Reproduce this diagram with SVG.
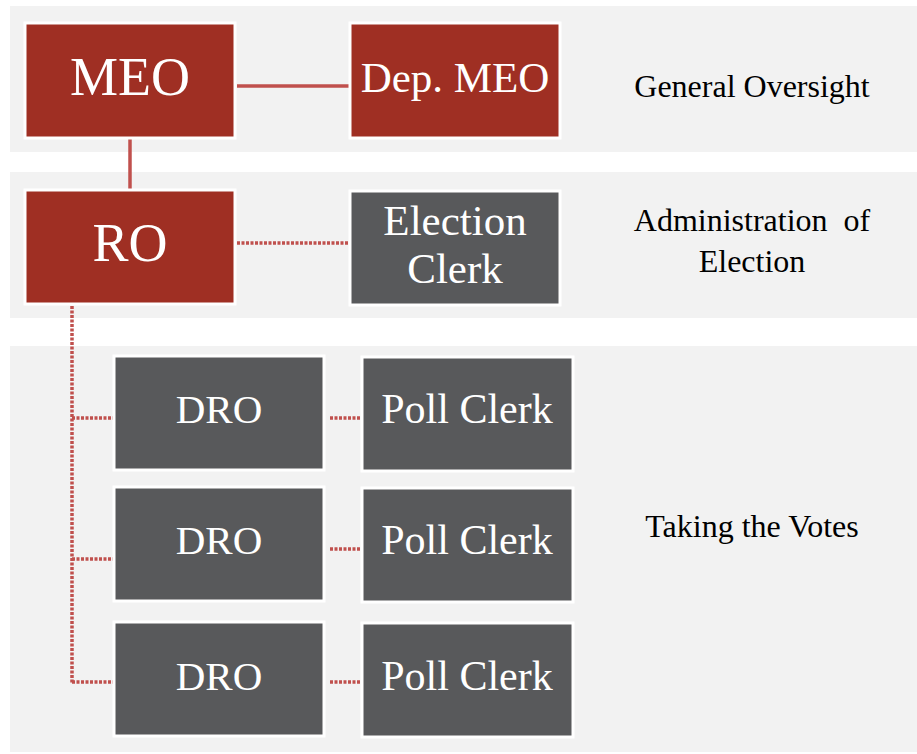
<svg xmlns="http://www.w3.org/2000/svg" width="917" height="754" viewBox="0 0 917 754">
<style>
.band{fill:#f2f2f2}
.red{fill:#9f2f23;stroke:#ffffff;stroke-width:3}
.grey{fill:#58595b;stroke:#ffffff;stroke-width:3}
.t{font-family:"Liberation Serif","DejaVu Serif",serif;fill:#ffffff;text-anchor:middle}
.lbl{font-family:"Liberation Serif","DejaVu Serif",serif;fill:#000000;text-anchor:middle;font-size:32px}
.solid{stroke:#c0504d;stroke-width:3.5;fill:none}
.dot{stroke:#c0504d;stroke-width:3.5;fill:none;stroke-dasharray:3 1.5}
</style>
<rect width="917" height="754" fill="#ffffff"/>
<g id="bands">
<rect class="band" x="10" y="6" width="907" height="146"/>
<rect class="band" x="10" y="172" width="907" height="146"/>
<rect class="band" x="10" y="346" width="907" height="406"/>
</g>
<g id="connectors">
<line class="solid" x1="237" y1="86" x2="349" y2="86"/>
<line class="solid" x1="130" y1="139" x2="130" y2="189"/>
<line class="dot" x1="237" y1="243" x2="349" y2="243"/>
<line class="dot" x1="72" y1="306" x2="72" y2="684"/>
<line class="dot" x1="72" y1="418" x2="113" y2="418"/>
<line class="dot" x1="72" y1="559" x2="113" y2="559"/>
<line class="dot" x1="72" y1="682" x2="113" y2="682"/>
<line class="dot" x1="330" y1="418" x2="361" y2="418"/>
<line class="dot" x1="330" y1="549" x2="361" y2="549"/>
<line class="dot" x1="330" y1="682" x2="361" y2="682"/>
</g>
<g id="meo"><rect class="red" x="25" y="23" width="210" height="115"/><text class="t" x="130" y="95" font-size="54">MEO</text></g>
<g id="depmeo"><rect class="red" x="350" y="23" width="210" height="115"/><text class="t" x="455" y="92" font-size="43">Dep. MEO</text></g>
<g id="ro"><rect class="red" x="25" y="190" width="210" height="114"/><text class="t" x="130" y="261" font-size="54">RO</text></g>
<g id="electionclerk"><rect class="grey" x="350" y="191" width="210" height="114"/><text class="t" x="455" y="235" font-size="43">Election</text><text class="t" x="455" y="283" font-size="43">Clerk</text></g>
<g id="dro1"><rect class="grey" x="114" y="356" width="210" height="114"/><text class="t" x="219" y="423" font-size="41">DRO</text></g>
<g id="dro2"><rect class="grey" x="114" y="487" width="210" height="114"/><text class="t" x="219" y="554" font-size="41">DRO</text></g>
<g id="dro3"><rect class="grey" x="114" y="622" width="210" height="114"/><text class="t" x="219" y="690" font-size="41">DRO</text></g>
<g id="poll1"><rect class="grey" x="362" y="357" width="211" height="114"/><text class="t" x="467" y="423" font-size="42">Poll Clerk</text></g>
<g id="poll2"><rect class="grey" x="362" y="488" width="211" height="114"/><text class="t" x="467" y="554" font-size="42">Poll Clerk</text></g>
<g id="poll3"><rect class="grey" x="362" y="623" width="211" height="114"/><text class="t" x="467" y="690" font-size="42">Poll Clerk</text></g>
<g id="labels">
<text class="lbl" x="752" y="97" font-size="33">General Oversight</text>
<text class="lbl" x="752" y="231" xml:space="preserve">Administration  of</text>
<text class="lbl" x="752" y="272">Election</text>
<text class="lbl" x="752" y="537" font-size="33">Taking  the Votes</text>
</g>
</svg>
